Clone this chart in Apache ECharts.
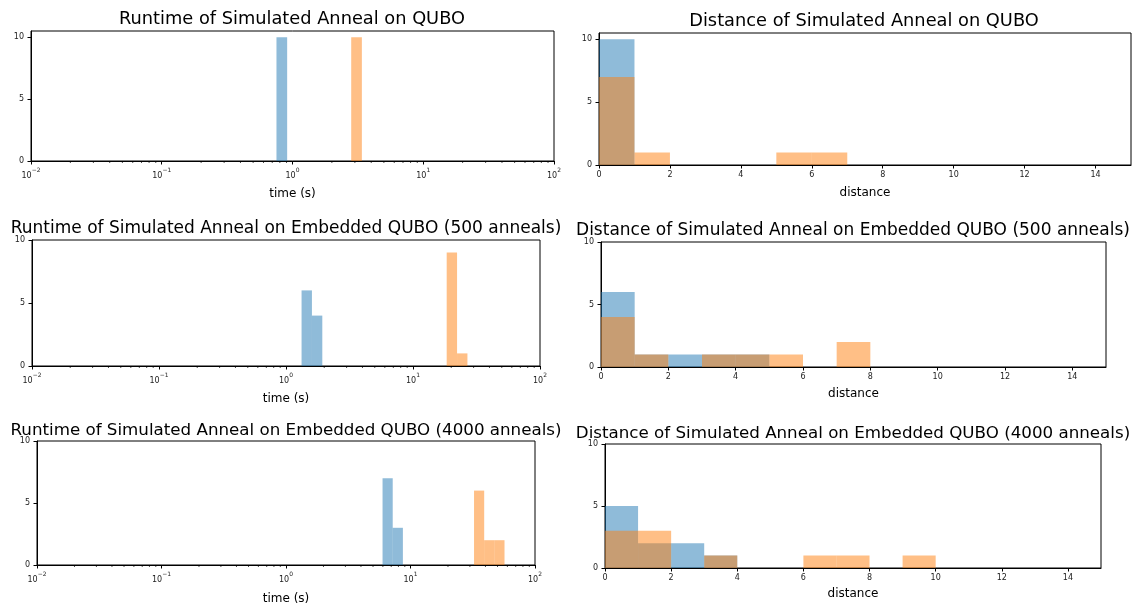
<!DOCTYPE html>
<html><head><meta charset="utf-8">
<script src="https://cdn.jsdelivr.net/npm/echarts@6/dist/echarts.min.js"></script>
<style>html,body{margin:0;padding:0;background:#fff}#c{width:1136px;height:608px}</style>
</head><body><div id="c"></div><script>
// ---- data ----
const titles = [
  'Runtime of Simulated Anneal on QUBO',
  'Distance of Simulated Anneal on QUBO',
  'Runtime of Simulated Anneal on Embedded QUBO (500 anneals)',
  'Distance of Simulated Anneal on Embedded QUBO (500 anneals)',
  'Runtime of Simulated Anneal on Embedded QUBO (4000 anneals)',
  'Distance of Simulated Anneal on Embedded QUBO (4000 anneals)'
];
const xLabelTime = 'time (s)';
const xLabelDist = 'distance';
const logTickValues = [0.01, 0.1, 1, 10, 100];
const logTickExponents = ['\u22122', '\u22121', '0', '1', '2'];
const minorMultipliers = [2, 3, 4, 5, 6, 7, 8, 9];
const minorDecades = [0.01, 0.1, 1, 10];
const distTickValues = [0, 2, 4, 6, 8, 10, 12, 14];
const countTickValues = [0, 5, 10];

// runtime histograms: bin edges (log-spaced bins) and counts
const rtQuboBlueEdges = [0.754, 0.910];           const rtQuboBlueCounts = [10];
const rtQuboOrangeEdges = [2.812, 3.393];         const rtQuboOrangeCounts = [10];
const rt500BlueEdges = [1.326, 1.600, 1.931];     const rt500BlueCounts = [6, 4];
const rt500OrangeEdges = [18.42, 22.23, 26.83];   const rt500OrangeCounts = [9, 1];
const rt4000BlueEdges = [5.964, 7.197, 8.686];    const rt4000BlueCounts = [7, 3];
const rt4000OrangeEdges = [32.38, 39.07, 47.15, 56.90]; const rt4000OrangeCounts = [6, 2, 2];

// distance histograms: unit bins 0..15
const distEdges = [0,1,2,3,4,5,6,7,8,9,10,11,12,13,14,15];
const dQuboBlue   = [10,0,0,0,0,0,0,0,0,0,0,0,0,0,0];
const dQuboOrange = [7,1,0,0,0,1,1,0,0,0,0,0,0,0,0];
const d500Blue    = [6,1,1,1,1,0,0,0,0,0,0,0,0,0,0];
const d500Orange  = [4,1,0,1,1,1,0,2,0,0,0,0,0,0,0];
const d4000Blue   = [5,2,2,1,0,0,0,0,0,0,0,0,0,0,0];
const d4000Orange = [3,3,0,1,0,0,1,1,0,1,0,0,0,0,0];

// ---- layout ----
const grids = [
  {left: 31, top: 31, width: 523, height: 130},
  {left: 599, top: 33, width: 532, height: 132},
  {left: 32, top: 240, width: 508, height: 126},
  {left: 601, top: 242, width: 505, height: 125},
  {left: 37, top: 441, width: 498, height: 124},
  {left: 605, top: 444, width: 496, height: 124}
];
const titlePos = [[292,18],[864,20],[286,227],[853,229],[286,429],[853,432]];
const titleSizes = [17.8, 17.8, 17, 17, 16.7, 16.7];
const yMaxes = [10.5, 10.5, 10, 10, 10, 10];
const nameGaps = [27, 22, 27, 21, 28, 20];

const BLUE = 'rgba(31,119,180,0.5)';
const ORANGE = 'rgba(255,127,14,0.5)';
const FONT = 'DejaVu Sans';

function toBins(edges, counts) {
  const out = [];
  for (let i = 0; i < counts.length; i++) {
    if (counts[i] > 0) out.push([edges[i], edges[i+1], counts[i]]);
  }
  return out;
}
function histSeries(idx, data, color) {
  return {
    type: 'custom', xAxisIndex: idx, yAxisIndex: idx, silent: true,
    encode: {x: [0, 1], y: 2},
    data: data,
    renderItem: function (params, api) {
      const p0 = api.coord([api.value(0), 0]);
      const p1 = api.coord([api.value(1), api.value(2)]);
      return {type: 'rect', shape: {x: p0[0], y: p1[1], width: p1[0] - p0[0], height: p0[1] - p1[1]},
              style: {fill: color}};
    }
  };
}
function minorSeries(idx) {
  const data = [];
  minorDecades.forEach(d => minorMultipliers.forEach(m => data.push([m * d, 0])));
  return {
    type: 'custom', xAxisIndex: idx, yAxisIndex: idx, silent: true, clip: false,
    encode: {x: 0, y: 1},
    data: data,
    renderItem: function (params, api) {
      const p = api.coord([api.value(0), 0]);
      return {type: 'line', shape: {x1: p[0], y1: p[1], x2: p[0], y2: p[1] + 2},
              style: {stroke: '#000', lineWidth: 0.7}};
    }
  };
}

const isLog = [true, false, true, false, true, false];
const xAxes = [], yAxes = [], series = [];
const runtimeSets = [
  [rtQuboBlueEdges, rtQuboBlueCounts, rtQuboOrangeEdges, rtQuboOrangeCounts],
  [rt500BlueEdges, rt500BlueCounts, rt500OrangeEdges, rt500OrangeCounts],
  [rt4000BlueEdges, rt4000BlueCounts, rt4000OrangeEdges, rt4000OrangeCounts]
];
const distSets = [[dQuboBlue, dQuboOrange], [d500Blue, d500Orange], [d4000Blue, d4000Orange]];

for (let i = 0; i < 6; i++) {
  const axisLine = {show: true, lineStyle: {color: '#000', width: 1}};
  const labelBase = {fontFamily: FONT, fontSize: 8, color: '#222', margin: 6};
  if (isLog[i]) {
    xAxes.push({
      gridIndex: i, type: 'log', logBase: 10, min: 0.01, max: 100,
      splitLine: {show: false}, axisLine: axisLine,
      axisTick: {show: true, length: 3.5, lineStyle: {color: '#000'}, customValues: logTickValues},
      axisLabel: Object.assign({}, labelBase, {customValues: logTickValues, margin: 6,
        formatter: v => {
          const k = logTickValues.findIndex(t => Math.abs(Math.log10(t) - Math.log10(v)) < 1e-6);
          return k < 0 ? '' : '{b|10}{s|' + logTickExponents[k] + '}';
        },
        rich: {
          b: {fontFamily: FONT, fontSize: 8, color: '#222', lineHeight: 13, verticalAlign: 'bottom'},
          s: {fontFamily: FONT, fontSize: 6, color: '#222', lineHeight: 13, verticalAlign: 'top'}
        }}),
      name: xLabelTime, nameLocation: 'middle', nameGap: nameGaps[i],
      nameTextStyle: {fontFamily: FONT, fontSize: 12, color: '#000'}
    });
  } else {
    xAxes.push({
      gridIndex: i, type: 'value', min: 0, max: 15,
      splitLine: {show: false}, axisLine: axisLine,
      axisTick: {show: true, length: 3.5, lineStyle: {color: '#000'}, customValues: distTickValues},
      axisLabel: Object.assign({}, labelBase, {customValues: distTickValues}),
      name: xLabelDist, nameLocation: 'middle', nameGap: nameGaps[i],
      nameTextStyle: {fontFamily: FONT, fontSize: 12, color: '#000'}
    });
  }
  yAxes.push({
    gridIndex: i, type: 'value', min: 0, max: yMaxes[i],
    splitLine: {show: false}, axisLine: axisLine,
    axisTick: {show: true, length: 3.5, lineStyle: {color: '#000'}, customValues: countTickValues},
    axisLabel: Object.assign({}, labelBase, {customValues: countTickValues, margin: 7})
  });
  const row = Math.floor(i / 2);
  if (isLog[i]) {
    const s = runtimeSets[row];
    series.push(histSeries(i, toBins(s[0], s[1]), BLUE));
    series.push(histSeries(i, toBins(s[2], s[3]), ORANGE));
    series.push(minorSeries(i));
  } else {
    const s = distSets[row];
    series.push(histSeries(i, toBins(distEdges, s[0]), BLUE));
    series.push(histSeries(i, toBins(distEdges, s[1]), ORANGE));
  }
}

const chart = echarts.init(document.getElementById('c'), null, {renderer: 'canvas'});
chart.setOption({
  animation: false,
  backgroundColor: '#fff',
  title: titles.map((t, i) => ({
    text: t, left: titlePos[i][0], top: titlePos[i][1] - titleSizes[i] * 0.41, textAlign: 'center', padding: 0,
    textStyle: {fontFamily: FONT, fontSize: titleSizes[i], fontWeight: 'normal', color: '#000'}
  })),
  grid: grids.map(g => Object.assign({show: true, borderColor: '#000', borderWidth: 1, containLabel: false}, g)),
  xAxis: xAxes,
  yAxis: yAxes,
  series: series
});
</script></body></html>
